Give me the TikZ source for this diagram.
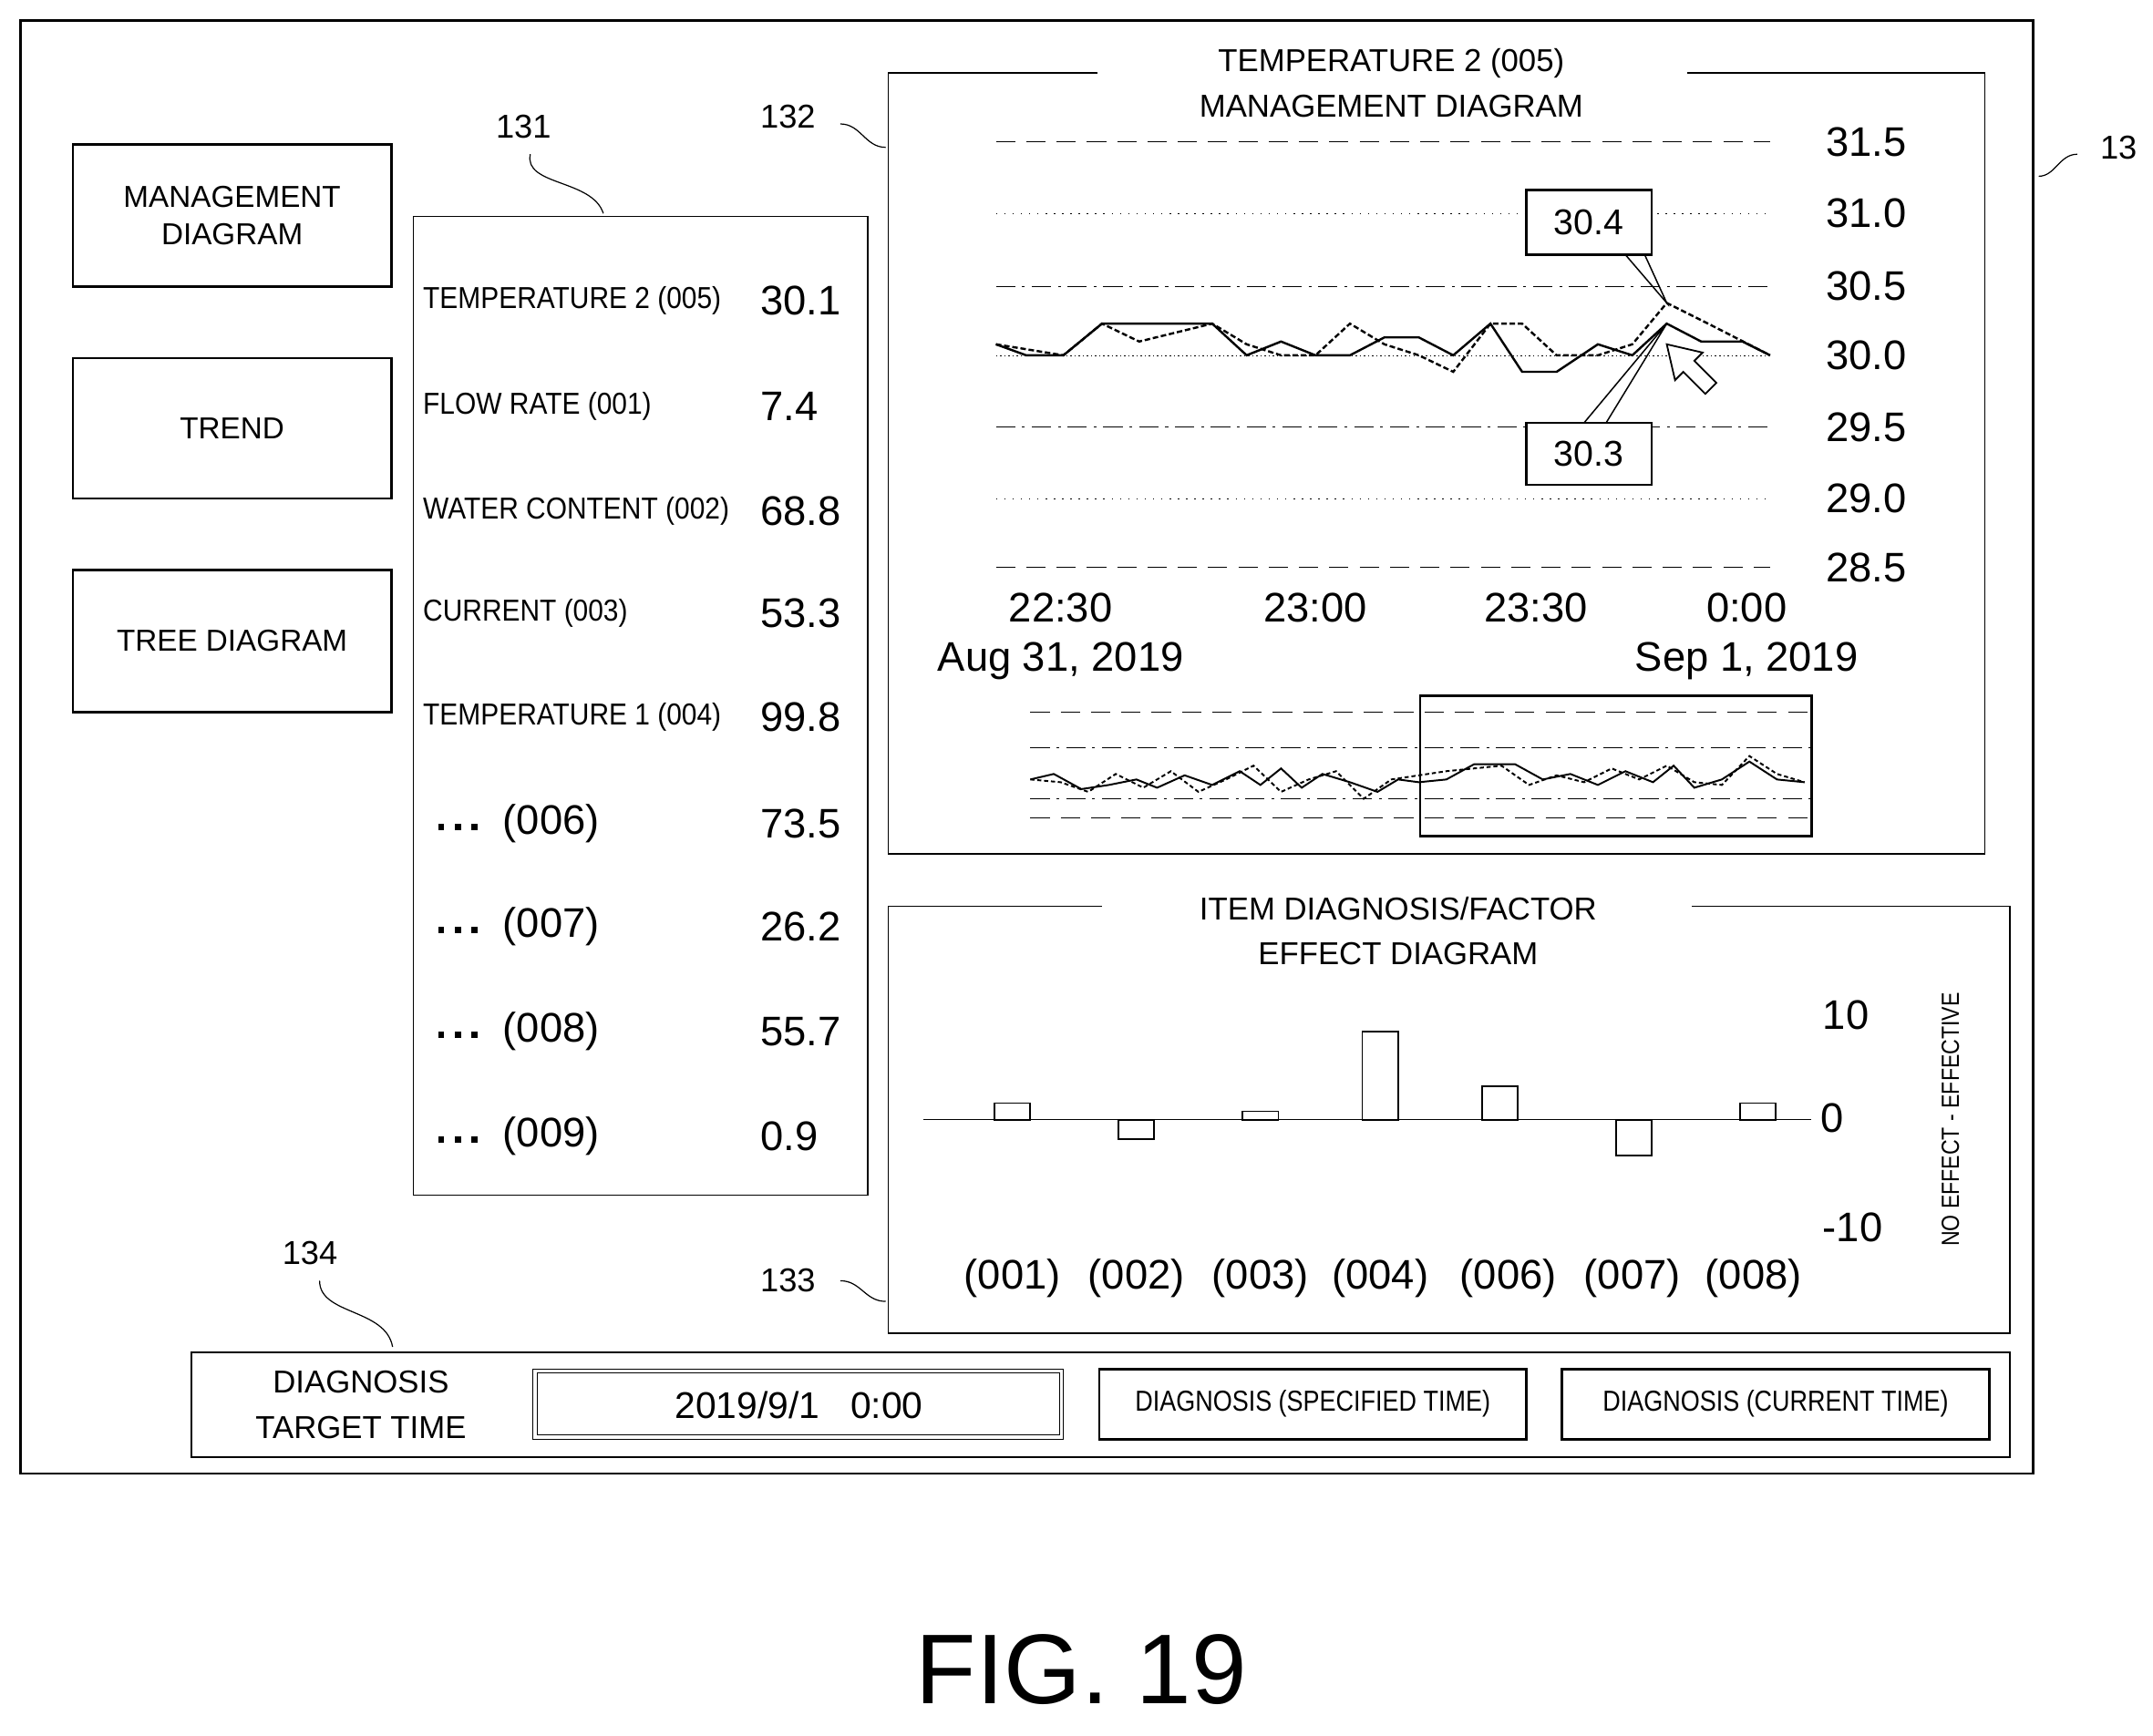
\documentclass[tikz,border=0pt]{standalone}
\usepackage{fontspec}
\setmainfont{Liberation Sans}
\begin{document}
\begin{tikzpicture}[x=1pt,y=-1pt,
  frame/.style={draw,line width=1.6pt},
  thin/.style={draw,line width=0.9pt},
  lbl/.style={font=\fontsize{22}{26}\selectfont,inner sep=0pt},
  big/.style={font=\fontsize{30}{34}\selectfont,inner sep=0pt},
  btn/.style={draw,line width=1.8pt,align=center,font=\fontsize{22}{27}\selectfont},
  sq/.style={line width=0.8pt}]
\useasboundingbox (0,0) rectangle (1563,1260);
\draw[frame] (15,15) rectangle (1476,1070);
% label 13
\node[big,font=\fontsize{24}{28}\selectfont] (l13) at (1538,107) {13};
\draw[sq] (1480,128) .. controls (1492,128) and (1495,112) .. (1508,112);
% left buttons
\node[btn,minimum width=231pt,minimum height=103pt] (b1) at (168.5,156.5) {MANAGEMENT\\DIAGRAM};
\node[btn,minimum width=231pt,minimum height=102pt] (b2) at (168.5,311) {TREND};
\node[btn,minimum width=231pt,minimum height=103pt] (b3) at (168.5,465.5) {TREE DIAGRAM};
% list 131
\draw[thin] (300,157) rectangle (630,868);
\node[lbl,font=\fontsize{24}{28}\selectfont] (l131) at (380,92) {131};
\draw[sq] (385,112) .. controls (380,135) and (430,130) .. (438,155);
\foreach \n/\v/\y in {TEMPERATURE 2 (005)/30.1/218, FLOW RATE (001)/7.4/295, WATER CONTENT (002)/68.8/371, CURRENT (003)/53.3/445, TEMPERATURE 1 (004)/99.8/521}{
  \node[lbl,anchor=west,xscale=0.9] at (307,\y) {\n};
  \node[big,anchor=west] at (552,\y) {\v};}
\foreach \n/\v/\y in {(006)/73.5/598,(007)/26.2/673,(008)/55.7/749,(009)/0.9/825}{
  \foreach \dx in {0,12,24} \fill (318+\dx,\y) rectangle ++(4.5,4.5);
  \node[big,anchor=west] at (365,\y) {\n};
  \node[big,anchor=west] at (552,\y) {\v};}
% chart 132
\draw[thin] (797,53) -- (645,53) -- (645,620) -- (1441,620) -- (1441,53) -- (1225,53);
\node[lbl,align=center,font=\fontsize{23}{33}\selectfont] (t132) at (1010,60) {TEMPERATURE 2 (005)\\MANAGEMENT DIAGRAM};
\node[lbl,font=\fontsize{24}{28}\selectfont] (l132) at (572,85) {132};
\draw[sq] (610,90) .. controls (625,90) and (628,107) .. (643,107);
\draw[dash pattern=on 14pt off 8pt] (723,103) -- (1285,103);
\draw[dash pattern=on 1pt off 5pt] (723,155) -- (1285,155);
\draw[dash pattern=on 14pt off 5pt on 2pt off 5pt] (723,208) -- (1285,208);
\draw[dash pattern=on 1pt off 2pt] (723,258) -- (1285,258);
\draw[dash pattern=on 14pt off 5pt on 2pt off 5pt] (723,310) -- (1285,310);
\draw[dash pattern=on 1pt off 5pt] (723,362) -- (1285,362);
\draw[dash pattern=on 14pt off 8pt] (723,412) -- (1285,412);
\foreach \v/\y in {31.5/103,31.0/155,30.5/208,30.0/258,29.5/310,29.0/362,28.5/412}
  \node[big] at (1355,\y) {\v};
\foreach \t/\x in {22:30/770,23:00/955,23:30/1115,0:00/1268}
  \node[big] at (\x,441) {\t};
\node[big] at (770,480) {Aug 31, 2019};
\node[big] at (1268,480) {Sep 1, 2019};
\draw[line width=1.6pt] (723,250)--(745,258)--(772,258)--(800,235)--(853,235)--(880,235)--(905,258)--(930,248)--(955,258)--(980,258)--(1005,245)--(1030,245)--(1055,258)--(1082,235)--(1105,270)--(1130,270)--(1160,250)--(1185,258)--(1210,235)--(1235,248)--(1265,248)--(1285,258);
\draw[line width=1.6pt,dash pattern=on 4pt off 2pt] (723,250)--(772,258)--(800,235)--(827,248)--(880,235)--(905,250)--(930,258)--(955,258)--(980,235)--(1005,250)--(1030,258)--(1055,270)--(1082,235)--(1105,235)--(1130,258)--(1160,258)--(1185,250)--(1210,220)--(1240,235)--(1285,258);
\node[big,draw,fill=white,line width=1.8pt,minimum width=91pt,minimum height=47pt,font=\fontsize{26}{30}\selectfont] (c1) at (1153.5,161.5) {30.4};
\node[big,draw,fill=white,line width=1.8pt,minimum width=91pt,minimum height=45pt,font=\fontsize{26}{30}\selectfont] (c2) at (1153.5,329.5) {30.3};
\coordinate (p1) at (1210,220);
\coordinate (p2) at (1210,235);
\draw[line width=1pt] (1180,185) -- (p1) -- (1194,185);
\draw[line width=1pt] (1150,307) -- (p2) -- (1166,307);
\draw[line width=1.2pt,fill=white] (1210,250) -- (1236,256) -- (1230,262) -- (1246,278) -- (1238,286) -- (1222,270) -- (1216,276) -- cycle;
% mini chart
\draw[dash pattern=on 14pt off 8pt] (748,517) -- (1315,517);
\draw[dash pattern=on 14pt off 5pt on 2pt off 5pt] (748,543) -- (1315,543);
\draw[dash pattern=on 14pt off 5pt on 2pt off 5pt] (748,580) -- (1315,580);
\draw[dash pattern=on 14pt off 8pt] (748,594) -- (1315,594);
\draw[line width=1.3pt] (748,566)--(765,562)--(785,573)--(805,570)--(825,566)--(840,572)--(860,563)--(880,570)--(900,560)--(915,570)--(930,558)--(945,572)--(960,562)--(980,568)--(1000,575)--(1015,566)--(1030,568)--(1050,566)--(1070,555)--(1100,555)--(1120,566)--(1140,562)--(1160,570)--(1180,560)--(1200,568)--(1215,556)--(1230,572)--(1250,566)--(1270,553)--(1290,566)--(1310,568);
\draw[line width=1.3pt,dash pattern=on 3pt off 2pt] (748,566)--(770,568)--(790,575)--(810,562)--(830,572)--(850,560)--(870,575)--(890,566)--(910,556)--(930,575)--(950,566)--(970,560)--(990,580)--(1010,566)--(1030,563)--(1050,560)--(1070,558)--(1090,556)--(1110,570)--(1130,563)--(1150,568)--(1170,558)--(1190,566)--(1210,556)--(1230,568)--(1250,570)--(1270,549)--(1290,562)--(1310,568);
\draw[line width=1.8pt] (1031,505) rectangle (1315,607);
% factor 133
\draw[thin] (800,658) -- (645,658) -- (645,968) -- (1459,968) -- (1459,658) -- (1228,658);
\node[lbl,align=center,font=\fontsize{23}{33}\selectfont] (t133) at (1015,676) {ITEM DIAGNOSIS/FACTOR\\EFFECT DIAGRAM};
\node[lbl,font=\fontsize{24}{28}\selectfont] (l133) at (572,930) {133};
\draw[sq] (610,930) .. controls (625,930) and (628,945) .. (643,945);
\draw[line width=0.9pt] (670,813) -- (1315,813);
\foreach \x/\y in {735/801,825/827,915/807,1002/749,1089/789,1186/839,1276/801}
  \draw[line width=1.2pt] (\x-13,813) rectangle (\x+13,\y);
\node[big] at (1340,737) {10};
\node[big] at (1330,812) {0};
\node[big] at (1345,891) {-10};
\node[lbl,rotate=90,font=\fontsize{18}{22}\selectfont,xscale=0.85] at (1416,813) {NO EFFECT - EFFECTIVE};
\foreach \t/\x in {(001)/735,(002)/825,(003)/915,(004)/1002,(006)/1095,(007)/1185,(008)/1273}
  \node[big] at (\x,928) {\t};
% bottom 134
\draw[thin] (139,982) rectangle (1459,1058);
\node[lbl,font=\fontsize{24}{28}\selectfont] (l134) at (225,910) {134};
\draw[sq] (232,930) .. controls (232,955) and (280,950) .. (285,978);
\node[lbl,align=center,font=\fontsize{23}{33}\selectfont] (dt) at (262,1020) {DIAGNOSIS\\TARGET TIME};
\draw[line width=0.8pt] (387,994) rectangle (772,1045);
\draw[line width=0.5pt] (390,997) rectangle (769,1042);
\node[big,font=\fontsize{27}{30}\selectfont] (tm) at (580,1020) {2019/9/1\ \ \ 0:00};
\node[btn,minimum width=310pt,minimum height=51pt,font=\fontsize{21}{25}\selectfont] (d1) at (953,1019.5) {\scalebox{0.85}[1]{DIAGNOSIS (SPECIFIED TIME)}};
\node[btn,minimum width=310pt,minimum height=51pt,font=\fontsize{21}{25}\selectfont] (d2) at (1289,1019.5) {\scalebox{0.85}[1]{DIAGNOSIS (CURRENT TIME)}};
\node[font=\fontsize{72}{80}\selectfont,inner sep=0pt] (fig) at (785,1212) {FIG. 19};
\end{tikzpicture}
\end{document}
